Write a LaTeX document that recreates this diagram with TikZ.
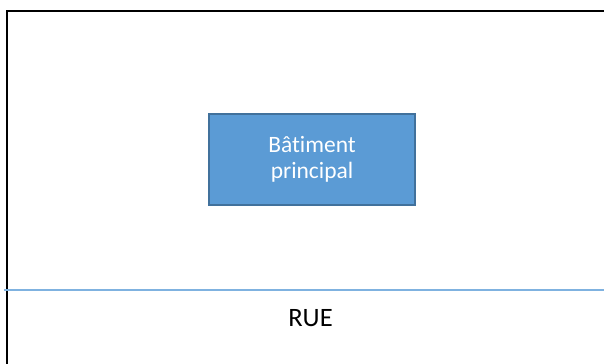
\documentclass[tikz,border=0pt]{standalone}
\usepackage{fontspec}
\setmainfont[Ligatures={NoCommon}]{Carlito}
\definecolor{boxfill}{HTML}{5B9BD5}
\definecolor{boxline}{HTML}{41719C}
\definecolor{rueline}{HTML}{7FB2E0}
\begin{document}
\begin{tikzpicture}[x=0.75pt,y=-0.75pt,
  building/.style={draw=boxline,line width=1.5pt,fill=boxfill,text=white,align=center,
    font=\fontsize{17.6}{19.5}\selectfont,inner sep=0pt},
  label/.style={font=\fontsize{19.9}{23}\selectfont,inner sep=0pt}]
\useasboundingbox (0,0) rectangle (604,364);
\fill[white] (0,0) rectangle (604,364);
\draw[line width=1.8pt] (7,366) -- (7,11) -- (606,11);
\coordinate (l) at (4,290);
\coordinate (r) at (606,290);
\draw[rueline,line width=1.3pt] (l) -- (r);
\node[building,minimum width=206*0.75pt,minimum height=91*0.75pt] (b) at (312,159.5) {};
\node[text=white,align=center,font=\fontsize{17.6}{19.5}\selectfont,inner sep=0pt] (bt) at (b.center) {Bâtiment\\principal};
\node[label] (rue) at (310.5,318) {RUE};
\end{tikzpicture}
\end{document}
